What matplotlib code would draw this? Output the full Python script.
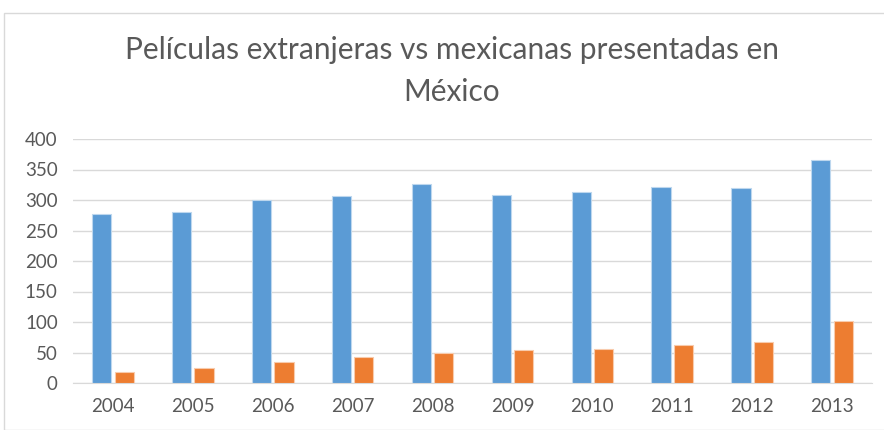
import matplotlib
matplotlib.use("Agg")
import matplotlib.pyplot as plt
from matplotlib.patches import Rectangle
import numpy as np

years = ["2004", "2005", "2006", "2007", "2008", "2009", "2010", "2011", "2012", "2013"]
extranjeras = [277, 280, 300, 306, 326, 308, 313, 322, 319, 365]
mexicanas = [18, 25, 34, 43, 49, 54, 55, 62, 67, 101]
title = "Películas extranjeras vs mexicanas presentadas en\nMéxico"

plt.rcParams['font.family'] = ['Lato', 'DejaVu Sans']

W, H = 884, 430
fig = plt.figure(figsize=(W / 100, H / 100), dpi=100)
fig.patch.set_facecolor("white")

# chart frame
fig.add_artist(Rectangle((4 / W, 0), 1.2, 1 - 13 / H, transform=fig.transFigure,
                         fill=False, edgecolor="#D9D9D9", linewidth=1))

left, right, top, bottom = 73, 872, 139, 383
ax = fig.add_axes([left / W, 1 - bottom / H, (right - left) / W, (bottom - top) / H])

x = np.arange(len(years))
bw = 0.24
gap = 0.04
ax.bar(x - (bw + gap) / 2, extranjeras, width=bw, color="#5B9BD5", edgecolor="#BDD7EE",
       linewidth=0.8, zorder=3)
ax.bar(x + (bw + gap) / 2, mexicanas, width=bw, color="#ED7D31", edgecolor="#F8CBAD",
       linewidth=0.8, zorder=3)

ax.set_xlim(-0.5, len(years) - 0.5)
ax.set_ylim(0, 400)
ax.set_yticks(range(0, 401, 50))
ax.set_xticks(x)
ax.set_xticklabels(years)
ax.yaxis.grid(True, color="#D9D9D9", linewidth=1, zorder=0)
ax.set_axisbelow(True)
for s in ["top", "right", "left"]:
    ax.spines[s].set_visible(False)
ax.spines["bottom"].set_color("#D9D9D9")
ax.tick_params(axis="both", length=0, labelsize=13.5, colors="#595959")
ax.tick_params(axis="x", pad=11)
ax.tick_params(axis="y", pad=11)
ax.set_facecolor("none")

fig.text((W / 2 + 10) / W, 1 - 71 / H, title, ha="center", va="center", fontsize=21.5,
         color="#595959", linespacing=1.58)

fig.savefig("out.png", dpi=100, facecolor="white")
